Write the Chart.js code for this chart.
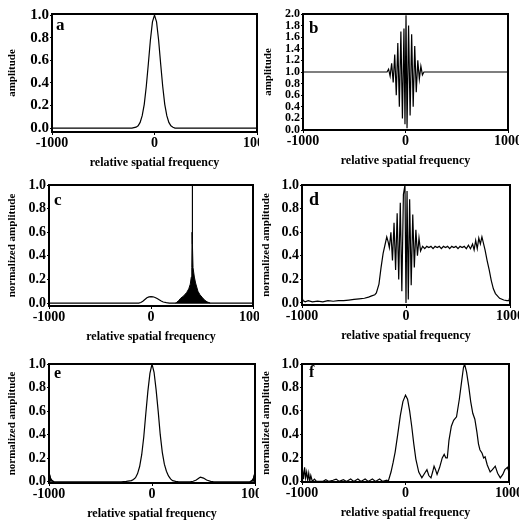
<!DOCTYPE html>
<html><head><meta charset="utf-8">
<script src="https://cdn.jsdelivr.net/npm/chart.js@4/dist/chart.umd.min.js"></script>
<style>
html,body{margin:0;padding:0;background:#fff;width:519px;height:520px;overflow:hidden;position:relative}
canvas{position:absolute}
</style></head><body>
<script>
// ---------- data ----------
const xTicks = [-1000, 0, 1000];
const yTicks1 = [0.0, 0.2, 0.4, 0.6, 0.8, 1.0];
const yTicks2 = [0.0, 0.2, 0.4, 0.6, 0.8, 1.0, 1.2, 1.4, 1.6, 1.8, 2.0];

const aX = [-1000,-220,-200,-180,-160,-140,-120,-100,-80,-60,-40,-20,0,20,40,60,80,100,120,140,160,180,200,1000];
const aY = [0,0,0.004,0.008,0.02,0.05,0.11,0.21,0.37,0.57,0.78,0.94,1.0,0.94,0.78,0.57,0.37,0.21,0.11,0.05,0.02,0.007,0,0];

const bX = [-1000,-180,-165,-150,-135,-120,-105,-90,-75,-60,-45,-30,-15,-5,5,15,30,45,60,75,90,105,120,135,150,165,180,1000];
const bY = [1.0,1.0,1.05,0.93,1.15,0.82,1.3,0.6,1.5,0.4,1.7,0.2,1.75,0.1,1.98,0.03,1.8,0.25,1.65,0.4,1.45,0.65,1.2,0.88,1.1,0.95,1.0,1.0];

const cX = [-1000,-120,-100,-80,-60,-40,-20,0,20,40,60,80,100,120,150,180,250,1000];
const cY = [0,0,0.005,0.015,0.03,0.045,0.052,0.055,0.053,0.047,0.038,0.028,0.018,0.009,0.003,0,0,0];
const cFX = [240,250,270,290,320,350,370,385,395,400,403,405,407,412,425,437,460,480,500,525,550,580];
const cFY = [0,0.005,0.02,0.04,0.06,0.09,0.12,0.16,0.22,0.3,0.6,1.0,0.5,0.3,0.22,0.17,0.1,0.07,0.05,0.025,0.01,0];

const dX = [-1000,-990,-970,-940,-900,-850,-800,-750,-700,-650,-600,-550,-500,-450,-400,-360,-330,-300,-285,-260,-240,-220,-200,-185,-172,
  -160,-145,-130,-115,-100,-85,-70,-55,-40,-25,-10,0,10,22,35,50,65,80,95,110,125,140,
  160,180,200,220,240,260,280,300,320,340,360,380,400,420,440,460,480,500,520,540,560,580,600,620,640,655,670,685,700,715,730,
  760,780,800,820,840,860,900,940,970,990,1000];
const dY = [0.05,0.02,0.01,0.02,0.01,0.015,0.01,0.02,0.015,0.02,0.02,0.025,0.03,0.035,0.04,0.05,0.06,0.07,0.085,0.16,0.3,0.42,0.5,0.56,0.52,
  0.47,0.6,0.36,0.68,0.28,0.76,0.2,0.85,0.1,0.92,1.0,0.0,0.95,0.03,0.88,0.15,0.75,0.3,0.62,0.4,0.55,0.44,
  0.48,0.46,0.48,0.47,0.48,0.46,0.48,0.47,0.48,0.46,0.48,0.47,0.48,0.46,0.48,0.47,0.48,0.46,0.48,0.47,0.48,0.46,0.49,0.46,0.5,0.45,0.53,0.46,0.55,0.5,0.56,
  0.45,0.36,0.28,0.19,0.12,0.08,0.04,0.025,0.02,0.02,0.06];

const eX = [-1000,-985,-970,-950,-300,-250,-200,-180,-160,-140,-120,-100,-80,-60,-40,-20,0,20,40,60,80,100,120,140,160,180,200,230,260,370,400,430,460,470,500,530,570,600,950,970,985,1000];
const eY = [0.08,0.03,0.01,0,0,0.004,0.01,0.02,0.035,0.07,0.13,0.23,0.38,0.58,0.77,0.92,1.0,0.93,0.78,0.6,0.4,0.25,0.15,0.09,0.05,0.025,0.01,0.004,0,0,0.005,0.015,0.035,0.04,0.032,0.015,0.004,0,0,0.01,0.03,0.08];
const eFLX = [-1000,-985,-970,-950];
const eFLY = [0.08,0.03,0.01,0];
const eFRX = [950,970,985,1000];
const eFRY = [0,0.01,0.03,0.08];

const fX = [-1000,-995,-985,-975,-965,-955,-945,-935,-925,-915,-900,-880,-860,-800,-770,-740,-700,-670,-640,-600,-570,-530,-500,-460,-430,-390,-360,-320,-290,-250,-220,-180,-167,
  -140,-120,-100,-75,-50,-25,0,20,40,60,80,100,128,158,185,207,225,246,262,276,290,305,330,355,374,390,404,420,443,465,493,520,542,560,571,590,611,630,650,670,690,705,719,740,755,769,790,818,840,867,890,916,940,960,985,1000];
const fY = [0,0.1,0.02,0.12,0.03,0.08,0.01,0.07,0,0.05,0,0.02,0,0,0.015,0,0.01,0.02,0,0.015,0,0.02,0,0.02,0,0.02,0,0.02,0,0.02,0,0.01,0,
  0.08,0.16,0.25,0.4,0.56,0.68,0.735,0.7,0.6,0.47,0.32,0.19,0.08,0.03,0.07,0.1,0.05,0.03,0.08,0.13,0.1,0.06,0.12,0.2,0.23,0.2,0.2,0.35,0.47,0.52,0.55,0.7,0.85,0.97,1.0,0.93,0.81,0.68,0.58,0.53,0.42,0.32,0.27,0.24,0.2,0.21,0.14,0.08,0.1,0.13,0.07,0.03,0.06,0.1,0.12,0.08];

// ---------- drawing ----------
const SERIF = "'Liberation Serif','DejaVu Serif',serif";
const pts = (xs, ys) => xs.map((x, i) => ({x: x, y: ys[i]}));
const lineDs = (xs, ys) => ({data: pts(xs, ys), borderColor: '#000', borderWidth: 1.2, pointRadius: 0, tension: 0, fill: false});
const fillDs = (xs, ys) => ({data: pts(xs, ys), borderColor: '#000', borderWidth: 1, pointRadius: 0, tension: 0, fill: 'origin', backgroundColor: '#000'});

const boxPlugin = {
  id: 'box',
  afterDraw(chart, args, opts) {
    const {ctx, chartArea: a} = chart;
    ctx.save();
    ctx.strokeStyle = '#000';
    ctx.lineWidth = 2;
    ctx.strokeRect(a.left, a.top, a.right - a.left, a.bottom - a.top);
    ctx.fillStyle = '#000';
    ctx.font = 'bold ' + opts.size + 'px ' + SERIF;
    ctx.textBaseline = 'alphabetic';
    ctx.fillText(opts.letter, a.left + opts.dx, a.top + opts.dy);
    ctx.restore();
  }
};

function panel(p) {
  const XH = 37, TOP = 10, RP = 24;
  const cl = p.area.l - p.yw, ct = p.area.t - TOP;
  const w = p.area.r - cl + RP, h = p.area.b - ct + XH;
  const cv = document.createElement('canvas');
  cv.width = w; cv.height = h;
  cv.style.left = cl + 'px'; cv.style.top = ct + 'px';
  cv.style.width = w + 'px'; cv.style.height = h + 'px';
  if (p.clipR) cv.style.clipPath = 'inset(0 ' + (cl + w - p.clipR) + 'px 0 0)';
  document.body.appendChild(cv);
  new Chart(cv, {
    type: 'line',
    data: {datasets: p.datasets},
    plugins: [boxPlugin],
    options: {
      responsive: false, animation: false, devicePixelRatio: 1,
      layout: {padding: {top: TOP, right: RP, left: 0, bottom: 0}},
      plugins: {legend: {display: false}, tooltip: {enabled: false}, box: {letter: p.letter, dx: p.ldx, dy: p.ldy, size: p.lsize}},
      scales: {
        x: {
          type: 'linear', min: -1000, max: 1000,
          afterBuildTicks: s => { s.ticks = xTicks.map(v => ({value: v})); },
          afterFit: s => { s.height = XH; },
          ticks: {callback: v => String(v), color: '#000', padding: 1, maxRotation: 0, autoSkip: false,
                  font: {family: SERIF, size: p.xfs, weight: 'bold', lineHeight: 1}},
          grid: {display: true, drawOnChartArea: false, drawTicks: true, tickLength: 3, color: '#000'},
          border: {display: true, color: '#000', width: 2},
          title: {display: true, text: 'relative spatial frequency', color: '#000', padding: 0,
                  font: {family: SERIF, size: 12, weight: 'bold', lineHeight: 1}}
        },
        y: {
          type: 'linear', min: p.yMin, max: p.yMax,
          afterBuildTicks: s => { s.ticks = p.yTicks.map(v => ({value: v})); },
          afterFit: s => { s.width = p.yw; },
          ticks: {callback: v => v.toFixed(1), color: '#000', padding: 1, autoSkip: false,
                  font: {family: SERIF, size: p.yfs, weight: 'bold', lineHeight: 1}},
          grid: {display: true, drawOnChartArea: false, drawTicks: true, tickLength: 2, color: '#000'},
          border: {display: true, color: '#000', width: 2},
          title: {display: true, text: p.yTitle, color: '#000', padding: 0,
                  font: {family: SERIF, size: 11, weight: 'bold', lineHeight: 1}}
        }
      }
    }
  });
}

panel({area: {l: 52, t: 14, r: 257, b: 132}, yw: 45, yMin: -0.035, yMax: 1.01, yTicks: yTicks1, yTitle: 'amplitude', clipR: 259,
       letter: 'a', ldx: 4, ldy: 16, lsize: 17, xfs: 14, yfs: 15, datasets: [lineDs(aX, aY)]});
panel({area: {l: 303, t: 14, r: 508, b: 130}, yw: 40, yMin: 0, yMax: 2.0, yTicks: yTicks2, yTitle: 'amplitude',
       letter: 'b', ldx: 6, ldy: 19, lsize: 17, xfs: 14, yfs: 12, datasets: [lineDs(bX, bY)]});
panel({area: {l: 49, t: 185, r: 253, b: 306}, yw: 42, yMin: -0.025, yMax: 1.0, yTicks: yTicks1, yTitle: 'normalized amplitude', clipR: 259,
       letter: 'c', ldx: 5, ldy: 20, lsize: 17, xfs: 14, yfs: 14, datasets: [fillDs(cFX, cFY), lineDs(cX, cY)]});
panel({area: {l: 302, t: 185, r: 510, b: 305}, yw: 41, yMin: -0.017, yMax: 1.0, yTicks: yTicks1, yTitle: 'normalized amplitude',
       letter: 'd', ldx: 7, ldy: 20, lsize: 18, xfs: 14, yfs: 14, datasets: [lineDs(dX, dY)]});
panel({area: {l: 49, t: 364, r: 255, b: 483}, yw: 42, yMin: -0.01, yMax: 1.0, yTicks: yTicks1, yTitle: 'normalized amplitude', clipR: 259,
       letter: 'e', ldx: 5, ldy: 14, lsize: 16, xfs: 14, yfs: 14, datasets: [fillDs(eFLX, eFLY), fillDs(eFRX, eFRY), lineDs(eX, eY)]});
panel({area: {l: 302, t: 364, r: 509, b: 482}, yw: 41, yMin: -0.005, yMax: 1.0, yTicks: yTicks1, yTitle: 'normalized amplitude',
       letter: 'f', ldx: 7, ldy: 13, lsize: 16, xfs: 14, yfs: 14, datasets: [lineDs(fX, fY)]});
</script>
</body></html>
